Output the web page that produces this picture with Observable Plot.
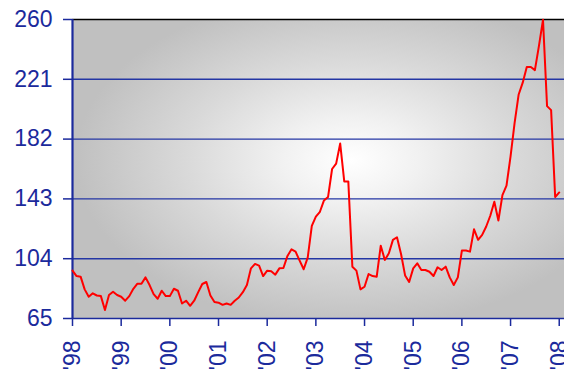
<!DOCTYPE html>
<html><head><meta charset="utf-8">
<script src="https://cdn.jsdelivr.net/npm/d3@7"></script>
<script src="https://cdn.jsdelivr.net/npm/@observablehq/plot@0.6"></script>
<style>html,body{margin:0;padding:0;background:#fff;overflow:hidden;}</style>
</head><body><div id="chart"></div>
<script>
// Monthly values, Jan 1998 .. Jan 2008 (month index 0 = Jan 1998)
const values = [
  96.2, 92.7, 92.3, 84.0, 79.2, 81.4, 80.0, 79.6, 70.5, 80.3, 82.4, 80.3,   // 1998
  79.2, 76.6, 79.6, 84.4, 87.7, 87.7, 91.8, 86.8, 80.9, 77.9, 83.1, 79.6,   // 1999
  79.6, 84.4, 83.1, 74.8, 76.6, 73.3, 76.6, 82.2, 87.5, 88.8, 80.0, 75.7,   // 2000
  75.3, 73.9, 74.8, 73.9, 76.6, 78.7, 82.2, 86.8, 97.7, 100.6, 99.5, 92.7,  // 2001
  96.2, 95.8, 93.6, 97.7, 97.9, 105.8, 110.1, 108.6, 102.7, 97.1, 104.9, 125.4, // 2002
  131.5, 134.6, 142.0, 144.2, 162.5, 166.0, 179.1, 154.4, 154.4, 98.8, 96.2, 84.0, // 2003
  85.7, 94.0, 92.7, 92.3, 112.5, 103.2, 107.5, 116.3, 118.0, 107.1, 93.1, 88.8,   // 2004
  97.7, 101.0, 96.6, 96.6, 95.5, 92.7, 98.4, 96.6, 98.8, 91.8, 86.8, 91.8,        // 2005
  109.3, 109.3, 108.6, 123.2, 116.3, 119.5, 125.0, 132.0, 141.1, 128.9, 145.5, 151.6, // 2006
  170.8, 192.6, 211.1, 218.8, 229.0, 229.0, 227.0, 242.8, 259.8, 203.5, 200.9, 144.2, // 2007
  147.2 // Jan 2008
];
const yTicks = [65, 104, 143, 182, 221, 260];
const xTickMonths = [0, 12, 24, 36, 48, 60, 72, 84, 96, 108, 120];
const xTickLabels = ["'98", "'99", "'00", "'01", "'02", "'03", "'04", "'05", "'06", "'07", "'08"];

const data = values.map((v, i) => ({m: i, v}));
const blue = "#1b2a9c";

const plot = Plot.plot({
  width: 564,
  height: 369,
  marginLeft: 72,
  marginRight: 0,
  marginTop: 19,
  marginBottom: 51,
  style: {fontFamily: "'Liberation Sans', Arial, sans-serif", fontSize: "23px", color: blue, background: "#ffffff", overflow: "visible"},
  x: {domain: [0, 121.3], axis: null},
  y: {domain: [65, 260], axis: null},
  marks: [
    Plot.frame({fill: "url(#bggrad)", stroke: null}),
    Plot.ruleY(yTicks.slice(1, -1), {stroke: "#2436a4", strokeWidth: 1.4}),
    Plot.ruleY([260], {stroke: "#000000", strokeWidth: 1.3}),
    Plot.axisY(yTicks, {anchor: "left", tickSize: 9, tickPadding: 11, stroke: blue, strokeWidth: 1.5, fill: blue, fontSize: 23, tickFormat: d => String(d), label: null}),
    Plot.axisX(xTickMonths, {anchor: "bottom", tickSize: 8, tickPadding: 14, tickRotate: -90, stroke: blue, strokeWidth: 1.5, fill: blue, fontSize: 23, tickFormat: d => xTickLabels[xTickMonths.indexOf(d)], label: null}),
    Plot.ruleY([65], {stroke: blue, strokeWidth: 1.6}),
    Plot.ruleX([0], {stroke: blue, strokeWidth: 2.2}),
    Plot.line(data, {x: "m", y: "v", stroke: "#ff0000", strokeWidth: 2})
  ]
});

const svg = d3.select(plot);
const defs = svg.insert("defs", ":first-child");
const grad = defs.append("radialGradient")
  .attr("id", "bggrad")
  .attr("cx", 0.565).attr("cy", 0.47).attr("r", 0.56)
  .attr("fx", 0.565).attr("fy", 0.47);
[[0, "#ffffff"], [0.25, "#f1f1f1"], [0.6, "#d9d9d9"], [1, "#c0c0c0"]].forEach(([o, c]) =>
  grad.append("stop").attr("offset", o).attr("stop-color", c));

document.getElementById("chart").appendChild(plot);
</script>
</body></html>
